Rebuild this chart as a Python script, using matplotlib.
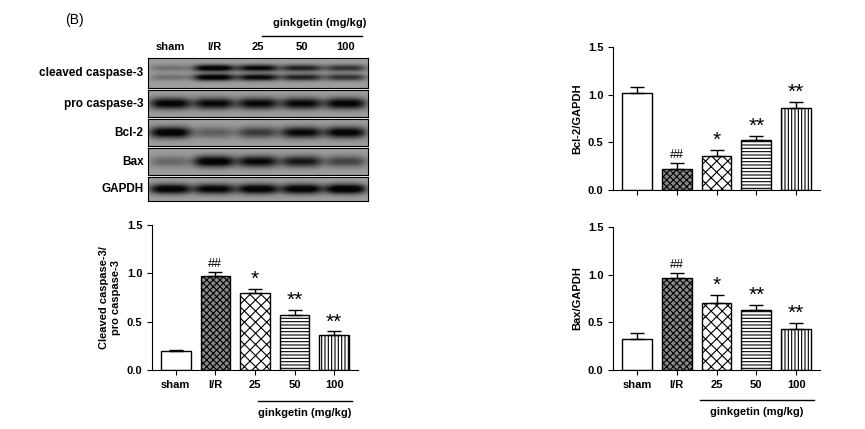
import numpy as np
import matplotlib.pyplot as plt

# Data ........................................................................
groups = ["sham", "I/R", "25", "50", "100"]
casp_mean = [0.20, 0.97, 0.80, 0.57, 0.36]
casp_err = [0.01, 0.04, 0.04, 0.05, 0.04]
casp_marks = ["", "##", "*", "**", "**"]
bcl_mean = [1.02, 0.22, 0.36, 0.52, 0.86]
bcl_err = [0.06, 0.06, 0.06, 0.05, 0.06]
bcl_marks = ["", "##", "*", "**", "**"]
bax_mean = [0.33, 0.96, 0.70, 0.63, 0.43]
bax_err = [0.06, 0.06, 0.09, 0.05, 0.06]
bax_marks = ["", "##", "*", "**", "**"]

# Blot band intensities (0..1) per lane
blot_rows = ["cleaved caspase-3", "pro caspase-3", "Bcl-2", "Bax", "GAPDH"]
blot_int = [
    [0.25, 0.95, 0.85, 0.7, 0.6],
    [0.9, 0.85, 0.85, 0.85, 0.9],
    [0.95, 0.35, 0.55, 0.85, 0.9],
    [0.3, 0.95, 0.85, 0.75, 0.5],
    [0.95, 0.9, 0.95, 0.95, 1.0],
]
double_band = [True, False, False, False, False]

hatches = ["", "xxxxx", "xxx", "-----", "|||||"]
faces = ["white", "#888888", "white", "white", "white"]

W, H = 865, 429
fig = plt.figure(figsize=(W / 100, H / 100), dpi=100)
plt.rcParams["font.family"] = "Liberation Sans"
plt.rcParams["font.weight"] = "bold"
plt.rcParams["axes.labelweight"] = "bold"
plt.rcParams["hatch.linewidth"] = 0.8


def ax_px(x0, y0, x1, y1):
    return fig.add_axes([x0 / W, 1 - y1 / H, (x1 - x0) / W, (y1 - y0) / H])


fig.text(65 / W, 1 - 20 / H, "(B)", fontsize=10, fontweight="normal", va="center")

# Blot ........................................................................
lane_x = np.linspace(0, 1, 200)
row_tops = [58, 90, 119, 148, 177]
row_bots = [88, 117, 146, 175, 201]
for r in range(5):
    a = ax_px(148, row_tops[r], 368, row_bots[r])
    img = np.zeros((30, 200))
    yy = np.linspace(0, 1, 30)[:, None]
    for i, v in enumerate(blot_int[r]):
        c = (i + 0.5) / 5
        prof = np.exp(-((lane_x - c) / 0.095) ** 4)[None, :]
        if double_band[r]:
            band = np.exp(-((yy - 0.33) / 0.12) ** 2) + np.exp(-((yy - 0.65) / 0.12) ** 2)
        else:
            band = np.exp(-((yy - 0.5) / 0.22) ** 2)
        img += v * prof * band
    a.imshow(0.62 - 0.6 * np.clip(img * 1.2, 0, 1), cmap="gray", vmin=0, vmax=1,
             aspect="auto", extent=[0, 1, 1, 0])
    a.set_xticks([]); a.set_yticks([])
    a.text(-0.02, 0.5, blot_rows[r], transform=a.transAxes, ha="right",
           va="center", fontsize=8.5)
for i, g in enumerate(groups):
    fig.text((148 + 220 * (i + 0.5) / 5) / W, 1 - 50 / H, g, ha="center", fontsize=8)
fig.text(320 / W, 1 - 26 / H, "ginkgetin (mg/kg)", ha="center", fontsize=8)
fig.add_artist(plt.Line2D([262 / W, 362 / W], [1 - 36 / H] * 2, color="black", lw=1))


# Bar charts ..................................................................
def bars(a, mean, err, marks, ylabel, labels):
    x = np.arange(5)
    a.bar(x, mean, width=0.75, color=faces, edgecolor="black", hatch=hatches, lw=1)
    a.errorbar(x, mean, yerr=[[0] * 5, err], fmt="none", ecolor="black",
               capsize=5, lw=1)
    for i, m in enumerate(marks):
        star = not m.startswith("#")
        a.text(x[i], mean[i] + err[i] + (0.0 if star else 0.02), m, ha="center",
               va="bottom", fontsize=15 if star else 9, fontweight="normal")
    a.set_ylim(0, 1.5)
    a.set_xlim(-0.6, 4.6)
    a.set_yticks([0, 0.5, 1.0, 1.5])
    a.set_yticklabels(["0.0", "0.5", "1.0", "1.5"], fontsize=8)
    a.set_ylabel(ylabel, fontsize=8, fontweight="bold")
    a.spines["top"].set_visible(False)
    a.spines["right"].set_visible(False)
    a.set_xticks(x)
    if labels:
        a.set_xticklabels(groups, fontsize=8)
    else:
        a.set_xticklabels([])


def ginkgetin(x0, x1, y):
    fig.add_artist(plt.Line2D([x0 / W, x1 / W], [1 - y / H] * 2, color="black", lw=1))
    fig.text((x0 + x1) / 2 / W, 1 - (y + 12) / H, "ginkgetin (mg/kg)",
             ha="center", va="center", fontsize=8)


a1 = ax_px(152, 225, 358, 370)
bars(a1, casp_mean, casp_err, casp_marks, "Cleaved caspase-3/\npro caspase-3", True)
ginkgetin(258, 352, 401)

a2 = ax_px(613, 47, 820, 190)
bars(a2, bcl_mean, bcl_err, bcl_marks, "Bcl-2/GAPDH", False)

a3 = ax_px(613, 227, 820, 370)
bars(a3, bax_mean, bax_err, bax_marks, "Bax/GAPDH", True)
ginkgetin(700, 814, 400)

fig.savefig("out.png", dpi=100)
